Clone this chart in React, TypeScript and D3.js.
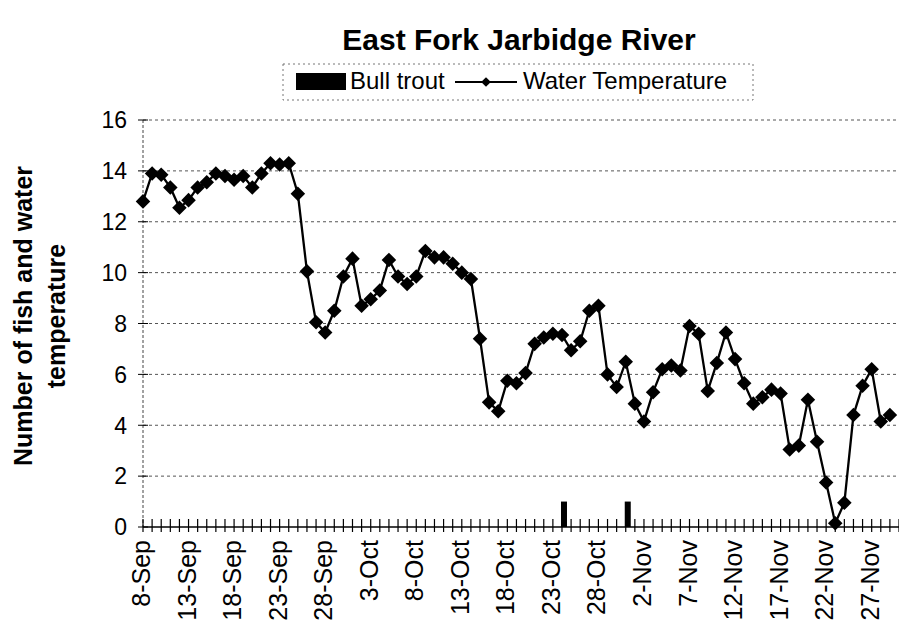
import React from "react";
import * as d3 from "d3";

const width = 899;
const height = 630;
const margin = { top: 120, right: 0, bottom: 103, left: 143 };

const chartTitle = "East Fork Jarbidge River";
const yTitleLines = ["Number of fish and water", "temperature"];
const startDate = "2000-09-08";
const endDate = "2000-11-30";

// daily water temperature, 8-Sep .. 29-Nov
const waterTemp = [
  12.8, 13.9, 13.85, 13.35, 12.55, 12.85, 13.35, 13.55, 13.9, 13.8,
  13.65, 13.8, 13.35, 13.9, 14.3, 14.25, 14.3, 13.1, 10.05, 8.05,
  7.65, 8.5, 9.85, 10.55, 8.7, 8.95, 9.3, 10.5, 9.85, 9.55,
  9.85, 10.85, 10.6, 10.6, 10.35, 10.0, 9.75, 7.4, 4.9, 4.55,
  5.75, 5.65, 6.05, 7.2, 7.45, 7.6, 7.55, 6.95, 7.3, 8.5,
  8.7, 6.0, 5.5, 6.5, 4.85, 4.15, 5.3, 6.2, 6.35, 6.15,
  7.9, 7.6, 5.35, 6.45, 7.65, 6.6, 5.65, 4.85, 5.1, 5.4,
  5.25, 3.05, 3.2, 5.0, 3.35, 1.75, 0.15, 0.95, 4.4, 5.55,
  6.2, 4.15, 4.4
];

const troutDates = ["2000-10-24", "2000-10-31"];
const troutCounts = [1, 1];

const xTickLabels = [
  "8-Sep", "13-Sep", "18-Sep", "23-Sep", "28-Sep", "3-Oct", "8-Oct",
  "13-Oct", "18-Oct", "23-Oct", "28-Oct", "2-Nov", "7-Nov", "12-Nov",
  "17-Nov", "22-Nov", "27-Nov"
];
const yTicks = [0, 2, 4, 6, 8, 10, 12, 14, 16];

const font = "'Liberation Sans', Arial, sans-serif";

export default function App() {
  const start = new Date(startDate);
  const end = new Date(endDate);

  const xScale = d3
    .scaleUtc()
    .domain([start, end])
    .range([margin.left, width - margin.right]);
  const yScale = d3
    .scaleLinear()
    .domain([0, 16])
    .range([height - margin.bottom, margin.top]);

  const tempData = waterTemp.map((v, i) => ({
    date: d3.utcDay.offset(start, i),
    value: v
  }));
  const troutData = troutDates.map((d, i) => ({
    date: new Date(d),
    value: troutCounts[i]
  }));

  const dayTicks = d3.utcDay.range(start, d3.utcDay.offset(end, 1));
  const labelTicks = d3.utcDay.range(start, end, 5);

  const lineGenerator = d3
    .line<{ date: Date; value: number }>()
    .x(d => xScale(d.date))
    .y(d => yScale(d.value))
    .curve(d3.curveLinear);

  const diamond = d3.symbol().type(d3.symbolDiamond2).size(135)();
  const smallDiamond = d3.symbol().type(d3.symbolDiamond2).size(60)();

  const x0 = margin.left;
  const x1 = width - margin.right;
  const y0 = yScale(0);

  return (
    <div style={{ position: "absolute", left: 0, top: 0 }}>
      <svg width={width} height={height} style={{ display: "block", fontFamily: font }}>
        <rect width={width} height={height} fill="#fff" />

        {/* title */}
        <text x={519} y={50} textAnchor="middle" fontSize={30} fontWeight="bold">
          {chartTitle}
        </text>

        {/* legend */}
        <rect x={283} y={64} width={470} height={36} fill="none" stroke="#777" strokeDasharray="2,3" />
        <rect x={296} y={73} width={50} height={17} fill="#000" />
        <text x={350} y={89} fontSize={24}>Bull trout</text>
        <line x1={455} x2={517} y1={82} y2={82} stroke="#000" strokeWidth={2} />
        <path d={smallDiamond} transform="translate(486,82)" fill="#000" />
        <text x={523} y={89} fontSize={24}>Water Temperature</text>

        {/* grid lines */}
        <g>
          {yTicks.filter(t => t > 0).map(t => (
            <line key={t} x1={x0} x2={x1} y1={yScale(t)} y2={yScale(t)}
              stroke="#555" strokeWidth={1} strokeDasharray="3,3" />
          ))}
        </g>

        {/* y axis */}
        <line x1={x0} x2={x0} y1={yScale(16)} y2={y0} stroke="#444" strokeDasharray="3,2" />
        {yTicks.map(t => (
          <g key={t} transform={`translate(0,${yScale(t)})`}>
            <line x1={x0 - 5} x2={x0 + 5} stroke="#000" />
            <text x={127} dy="0.36em" textAnchor="end" fontSize={23}>{t}</text>
          </g>
        ))}

        {/* x axis */}
        <line x1={x0} x2={x1} y1={y0} y2={y0} stroke="#000" strokeWidth={1.3} />
        {dayTicks.map((d, i) => (
          <line key={i} x1={xScale(d)} x2={xScale(d)} y1={y0 - 8} y2={y0 + 5}
            stroke="#000" strokeWidth={1.2} />
        ))}
        {labelTicks.map((d, i) => (
          <text key={i} transform={`translate(${xScale(d) - 2},540) rotate(-90)`}
            dy="0.36em" textAnchor="end" fontSize={25}>
            {xTickLabels[i]}
          </text>
        ))}

        {/* y axis title */}
        <g transform="translate(32,316) rotate(-90)" fontWeight="bold" fontSize={25} textAnchor="middle">
          <text y={0}>{yTitleLines[0]}</text>
          <text y={33}>{yTitleLines[1]}</text>
        </g>

        {/* bull trout bars */}
        {troutData.map((d, i) => (
          <rect key={i} x={xScale(d.date) - 1} width={6}
            y={yScale(d.value)} height={y0 - yScale(d.value)} fill="#000" />
        ))}

        {/* water temperature */}
        <path d={lineGenerator(tempData) || ""} fill="none" stroke="#000" strokeWidth={2.3} />
        {tempData.map((d, i) => (
          <path key={i} d={diamond} transform={`translate(${xScale(d.date)},${yScale(d.value)})`} fill="#000" />
        ))}
      </svg>
    </div>
  );
}
